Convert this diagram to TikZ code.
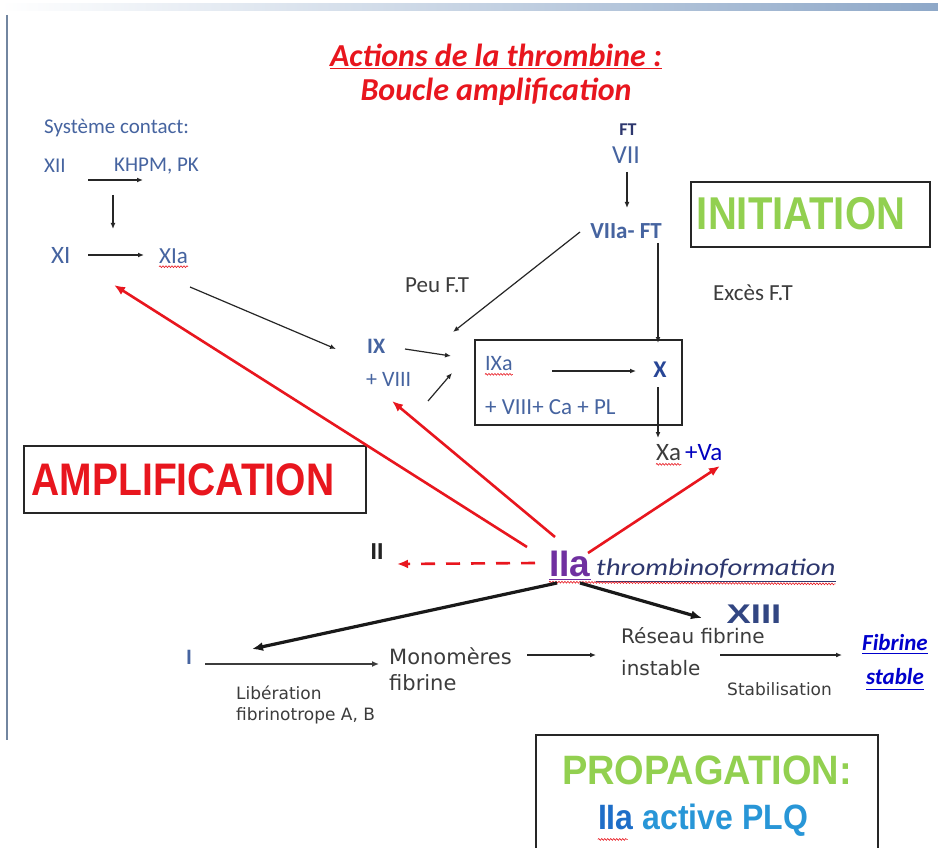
\documentclass[tikz,border=0pt]{standalone}
\usepackage{fontspec}
\setmainfont{Carlito}
\newfontfamily\arialf{Liberation Sans}
\newfontfamily\verd{DejaVu Sans}
\usetikzlibrary{arrows.meta,decorations.pathmorphing}
\definecolor{tblue}{RGB}{70,100,160}
\definecolor{dblue}{RGB}{40,70,150}
\definecolor{tred}{RGB}{232,22,30}
\definecolor{tgreen}{RGB}{146,208,80}
\definecolor{tpurple}{RGB}{112,48,160}
\definecolor{lblue}{RGB}{40,150,215}
\definecolor{mblue}{RGB}{30,110,200}
\definecolor{tgray}{RGB}{60,60,60}
\definecolor{barcol}{RGB}{142,168,200}
\definecolor{thrcol}{RGB}{45,55,110}
\definecolor{xiiicol}{RGB}{50,70,130}
\tikzset{
  lbl/.style={inner sep=0pt, anchor=west},
  ctr/.style={inner sep=0pt},
  blk/.style={-{Latex[length=6pt,width=5pt]}, line width=1.2pt, draw=black!85},
  thk/.style={-{Latex[length=11pt,width=9pt]}, line width=3.2pt, draw=black!90},
  redarr/.style={-{Latex[length=11pt,width=9pt]}, line width=2.6pt, draw=tred},
  boxed/.style={draw=black!85, line width=1.5pt},
  wavy/.style={draw=tred, line width=0.6pt, decorate, decoration={snake, amplitude=0.9pt, segment length=3pt}}
}
\begin{document}
\begin{tikzpicture}[x=1pt,y=-1pt]
\useasboundingbox (0,0) rectangle (938,848);
\fill[white] (0,0) rectangle (938,848);
% top bar and left border
\shade[left color=white, right color=barcol] (0,4) rectangle (938,11);
\draw[draw=barcol!80!black, line width=1.8pt] (7,15) -- (7,740);

% title
\node[ctr, text=tred, font=\bfseries\itshape\fontsize{32}{34}\selectfont] (t1) at (496,55) {Actions de la thrombine :};
\draw[tred, line width=1.8pt] ([yshift=-2pt]t1.south west) -- ([yshift=-2pt]t1.south east);
\node[ctr, text=tred, font=\bfseries\itshape\fontsize{32}{34}\selectfont] (t2) at (496,92) {Boucle amplification};

% contact system
\node[lbl, text=tblue, font=\fontsize{21}{24}\selectfont] (sys) at (44,128) {Système contact:};
\node[lbl, text=tblue, font=\fontsize{21}{24}\selectfont] (xii) at (44,166) {XII};
\node[lbl, text=tblue, font=\fontsize{21}{24}\selectfont] (khpm) at (114,166) {KHPM, PK};
\coordinate (a1s) at (88,180); \coordinate (a1e) at (143,180);
\draw[blk] (a1s) -- (a1e);
\coordinate (a2s) at (113,195); \coordinate (a2e) at (113,229);
\draw[blk] (a2s) -- (a2e);
\node[lbl, text=tblue, font=\fontsize{25}{28}\selectfont] (xi) at (51,255) {XI};
\node[lbl, text=tblue, font=\fontsize{23}{26}\selectfont] (xia) at (159,256) {XIa};
\draw[wavy] ([yshift=-3pt]xia.south west) -- ([yshift=-3pt]xia.south east);
\coordinate (a3s) at (88,255); \coordinate (a3e) at (144,255);
\draw[blk] (a3s) -- (a3e);

% extrinsic
\node[ctr, text=thrcol, font=\bfseries\fontsize{18}{20}\selectfont] (ft) at (628,130) {FT};
\node[ctr, text=tblue, font=\fontsize{26}{28}\selectfont] (vii) at (626,155) {VII};
\node[ctr, text=tblue, font=\bfseries\fontsize{23}{26}\selectfont] (viia) at (626,231) {VIIa- FT};
\coordinate (a5s) at (627,172); \coordinate (a5e) at (627,208);
\draw[blk] (a5s) -- (a5e);
\node[lbl, text=tgray, font=\fontsize{23}{26}\selectfont] (peu) at (405,285) {Peu F.T};
\node[lbl, text=tgray, font=\fontsize{23}{26}\selectfont] (exces) at (713,293) {Excès F.T};

% initiation box
\node[boxed, minimum width=239pt, minimum height=65pt, inner sep=0pt] (initbox) at (810.5,214.5) {};
\node[ctr, text=tgreen, font=\arialf\bfseries\fontsize{40}{42}\selectfont] (init) at (801,214) {\scalebox{1}[1.15]{INITIATION}};

% IX
\node[lbl, text=tblue, font=\bfseries\fontsize{22}{24}\selectfont] (ix) at (367,346) {IX};
\node[lbl, text=tblue, font=\fontsize{22}{24}\selectfont] (viii) at (366,379) {+ VIII};
\node[boxed, minimum width=207pt, minimum height=85pt, inner sep=0pt] (tenase) at (578.5,382.5) {};
\node[lbl, text=tblue, font=\fontsize{22}{24}\selectfont] (ixa) at (485,364) {IXa};
\draw[wavy] ([yshift=-3pt]ixa.south west) -- ([yshift=-3pt]ixa.south east);
\node[ctr, text=dblue, font=\bfseries\fontsize{24}{26}\selectfont] (xn) at (660,370) {X};
\node[lbl, text=tblue, font=\fontsize{23}{26}\selectfont] (plus) at (485,407) {+ VIII+ Ca + PL};
\coordinate (a4s) at (190,287); \coordinate (a4e) at (336,349);
\draw[blk] (a4s) -- (a4e);
\coordinate (a6s) at (580,232); \coordinate (a6e) at (453,332);
\draw[blk] (a6s) -- (a6e);
\coordinate (a7s) at (658,243); \coordinate (a7e) at (658,343);
\draw[blk] (a7s) -- (a7e);
\coordinate (a8s) at (405,349); \coordinate (a8e) at (451,356);
\draw[blk] (a8s) -- (a8e);
\coordinate (a9s) at (428,401); \coordinate (a9e) at (452,373);
\draw[blk] (a9s) -- (a9e);
\coordinate (a10s) at (552,371); \coordinate (a10e) at (636,371);
\draw[blk] (a10s) -- (a10e);
\coordinate (a11s) at (658,387); \coordinate (a11e) at (658,438);
\draw[blk] (a11s) -- (a11e);

% Xa + Va
\node[lbl, text=tgray, font=\fontsize{25}{28}\selectfont] (xa) at (656,453) {Xa};
\node[lbl, text=blue!75!black, font=\fontsize{25}{28}\selectfont] (va) at (685,453) {+Va};
\draw[wavy] ([yshift=-3pt]xa.south west) -- ([yshift=-3pt]xa.south east);

% amplification box
\node[boxed, minimum width=342pt, minimum height=67pt, inner sep=0pt] (amplbox) at (195,479.5) {};
\node[ctr, text=tred, font=\arialf\bfseries\fontsize{39}{42}\selectfont] (ampl) at (183,480) {\scalebox{1}[1.17]{AMPLIFICATION}};

% thrombin
\node[ctr, text=tgray!60!black, font=\arialf\bfseries\fontsize{23}{24}\selectfont] (ii) at (377,552) {II};
\node[lbl, text=tpurple, font=\arialf\bfseries\fontsize{37}{40}\selectfont] (iia) at (549,564) {IIa};
\draw[tpurple, line width=1.2pt] ([yshift=-2pt]iia.south west) -- ([yshift=-2pt]iia.south east);
\node[lbl, text=thrcol, font=\itshape\fontsize{24}{26}\selectfont] (thr) at (596,569) {\scalebox{1.2}[1]{thrombinoformation}};
\draw[thrcol, line width=0.8pt] ([yshift=-2pt]thr.south west) -- ([yshift=-2pt]thr.south east);
\draw[wavy] ([yshift=-5pt]iia.south west) -- ([yshift=-5pt]thr.south east);

% red arrows
\coordinate (r1s) at (527,547); \coordinate (r1e) at (114,285);
\draw[redarr] (r1s) -- (r1e);
\coordinate (r2s) at (555,537); \coordinate (r2e) at (392,401);
\draw[redarr] (r2s) -- (r2e);
\coordinate (r3s) at (588,553); \coordinate (r3e) at (720,466);
\draw[redarr] (r3s) -- (r3e);
\coordinate (r4s) at (535,563); \coordinate (r4e) at (397,564);
\draw[redarr, dash pattern=on 14pt off 11pt] (r4s) -- (r4e);

% XIII and I
\node[ctr, text=xiiicol, font=\arialf\bfseries\fontsize{27}{28}\selectfont] (xiii) at (754,614) {\scalebox{1.35}[1]{XIII}};
\node[ctr, text=tblue, font=\bfseries\fontsize{22}{24}\selectfont] (fI) at (189,657) {I};
\coordinate (k1s) at (557,583); \coordinate (k1e) at (252,649);
\draw[thk] (k1s) -- (k1e);
\coordinate (k2s) at (580,583); \coordinate (k2e) at (702,618);
\draw[thk] (k2s) -- (k2e);

% fibrin chain
\node[lbl, text=tgray, font=\verd\fontsize{17}{20}\selectfont] (lib) at (236,693) {Libération};
\node[lbl, text=tgray, font=\verd\fontsize{17}{20}\selectfont] (fibt) at (236,716) {fibrinotrope A, B};
\node[lbl, text=tgray, font=\verd\fontsize{21}{24}\selectfont] (mono) at (389,656) {Monomères};
\node[lbl, text=tgray, font=\verd\fontsize{21}{24}\selectfont] (fibr) at (389,683) {fibrine};
\coordinate (f1s) at (205,664); \coordinate (f1e) at (379,664);
\draw[-{Latex[length=7pt,width=6pt]}, line width=2.4pt, draw=tgray] (f1s) -- (f1e);
\node[lbl, text=tgray, font=\verd\fontsize{20}{24}\selectfont] (res) at (621,636) {Réseau fibrine};
\node[lbl, text=tgray, font=\verd\fontsize{20}{24}\selectfont] (inst) at (621,668) {instable};
\coordinate (f2s) at (527,655); \coordinate (f2e) at (596,655);
\draw[blk] (f2s) -- (f2e);
\node[lbl, text=tgray, font=\verd\fontsize{17}{20}\selectfont] (stab) at (727,689) {Stabilisation};
\node[lbl, text=blue!80!black, font=\bfseries\itshape\fontsize{23}{26}\selectfont] (fstab) at (862,643) {Fibrine};
\draw[blue!80!black, line width=1pt] ([yshift=-2pt]fstab.south west) -- ([yshift=-2pt]fstab.south east);
\node[lbl, text=blue!80!black, font=\bfseries\itshape\fontsize{23}{26}\selectfont] (sstab) at (866,677) {stable};
\draw[blue!80!black, line width=1pt] ([yshift=-4pt]sstab.south west) -- ([yshift=-4pt]sstab.south east);
\coordinate (f3s) at (720,655); \coordinate (f3e) at (842,655);
\draw[blk] (f3s) -- (f3e);

% propagation box
\coordinate (pb1) at (536,860); \coordinate (pb2) at (536,735); \coordinate (pb3) at (878,735); \coordinate (pb4) at (878,860);
\draw[boxed] (pb1) -- (pb2) -- (pb3) -- (pb4);
\node[ctr, text=tgreen, font=\arialf\bfseries\fontsize{38}{40}\selectfont] (prop) at (707,770) {\scalebox{1}[1.08]{PROPAGATION:}};
\node[ctr, text=lblue, font=\arialf\bfseries\fontsize{32}{34}\selectfont] (plq) at (703,820) {\scalebox{1}[1.1]{\textcolor{mblue}{IIa} active PLQ}};
\draw[wavy] ([xshift=0pt,yshift=-3pt]plq.south west) -- ++(30pt,0pt);
\end{tikzpicture}
\end{document}
